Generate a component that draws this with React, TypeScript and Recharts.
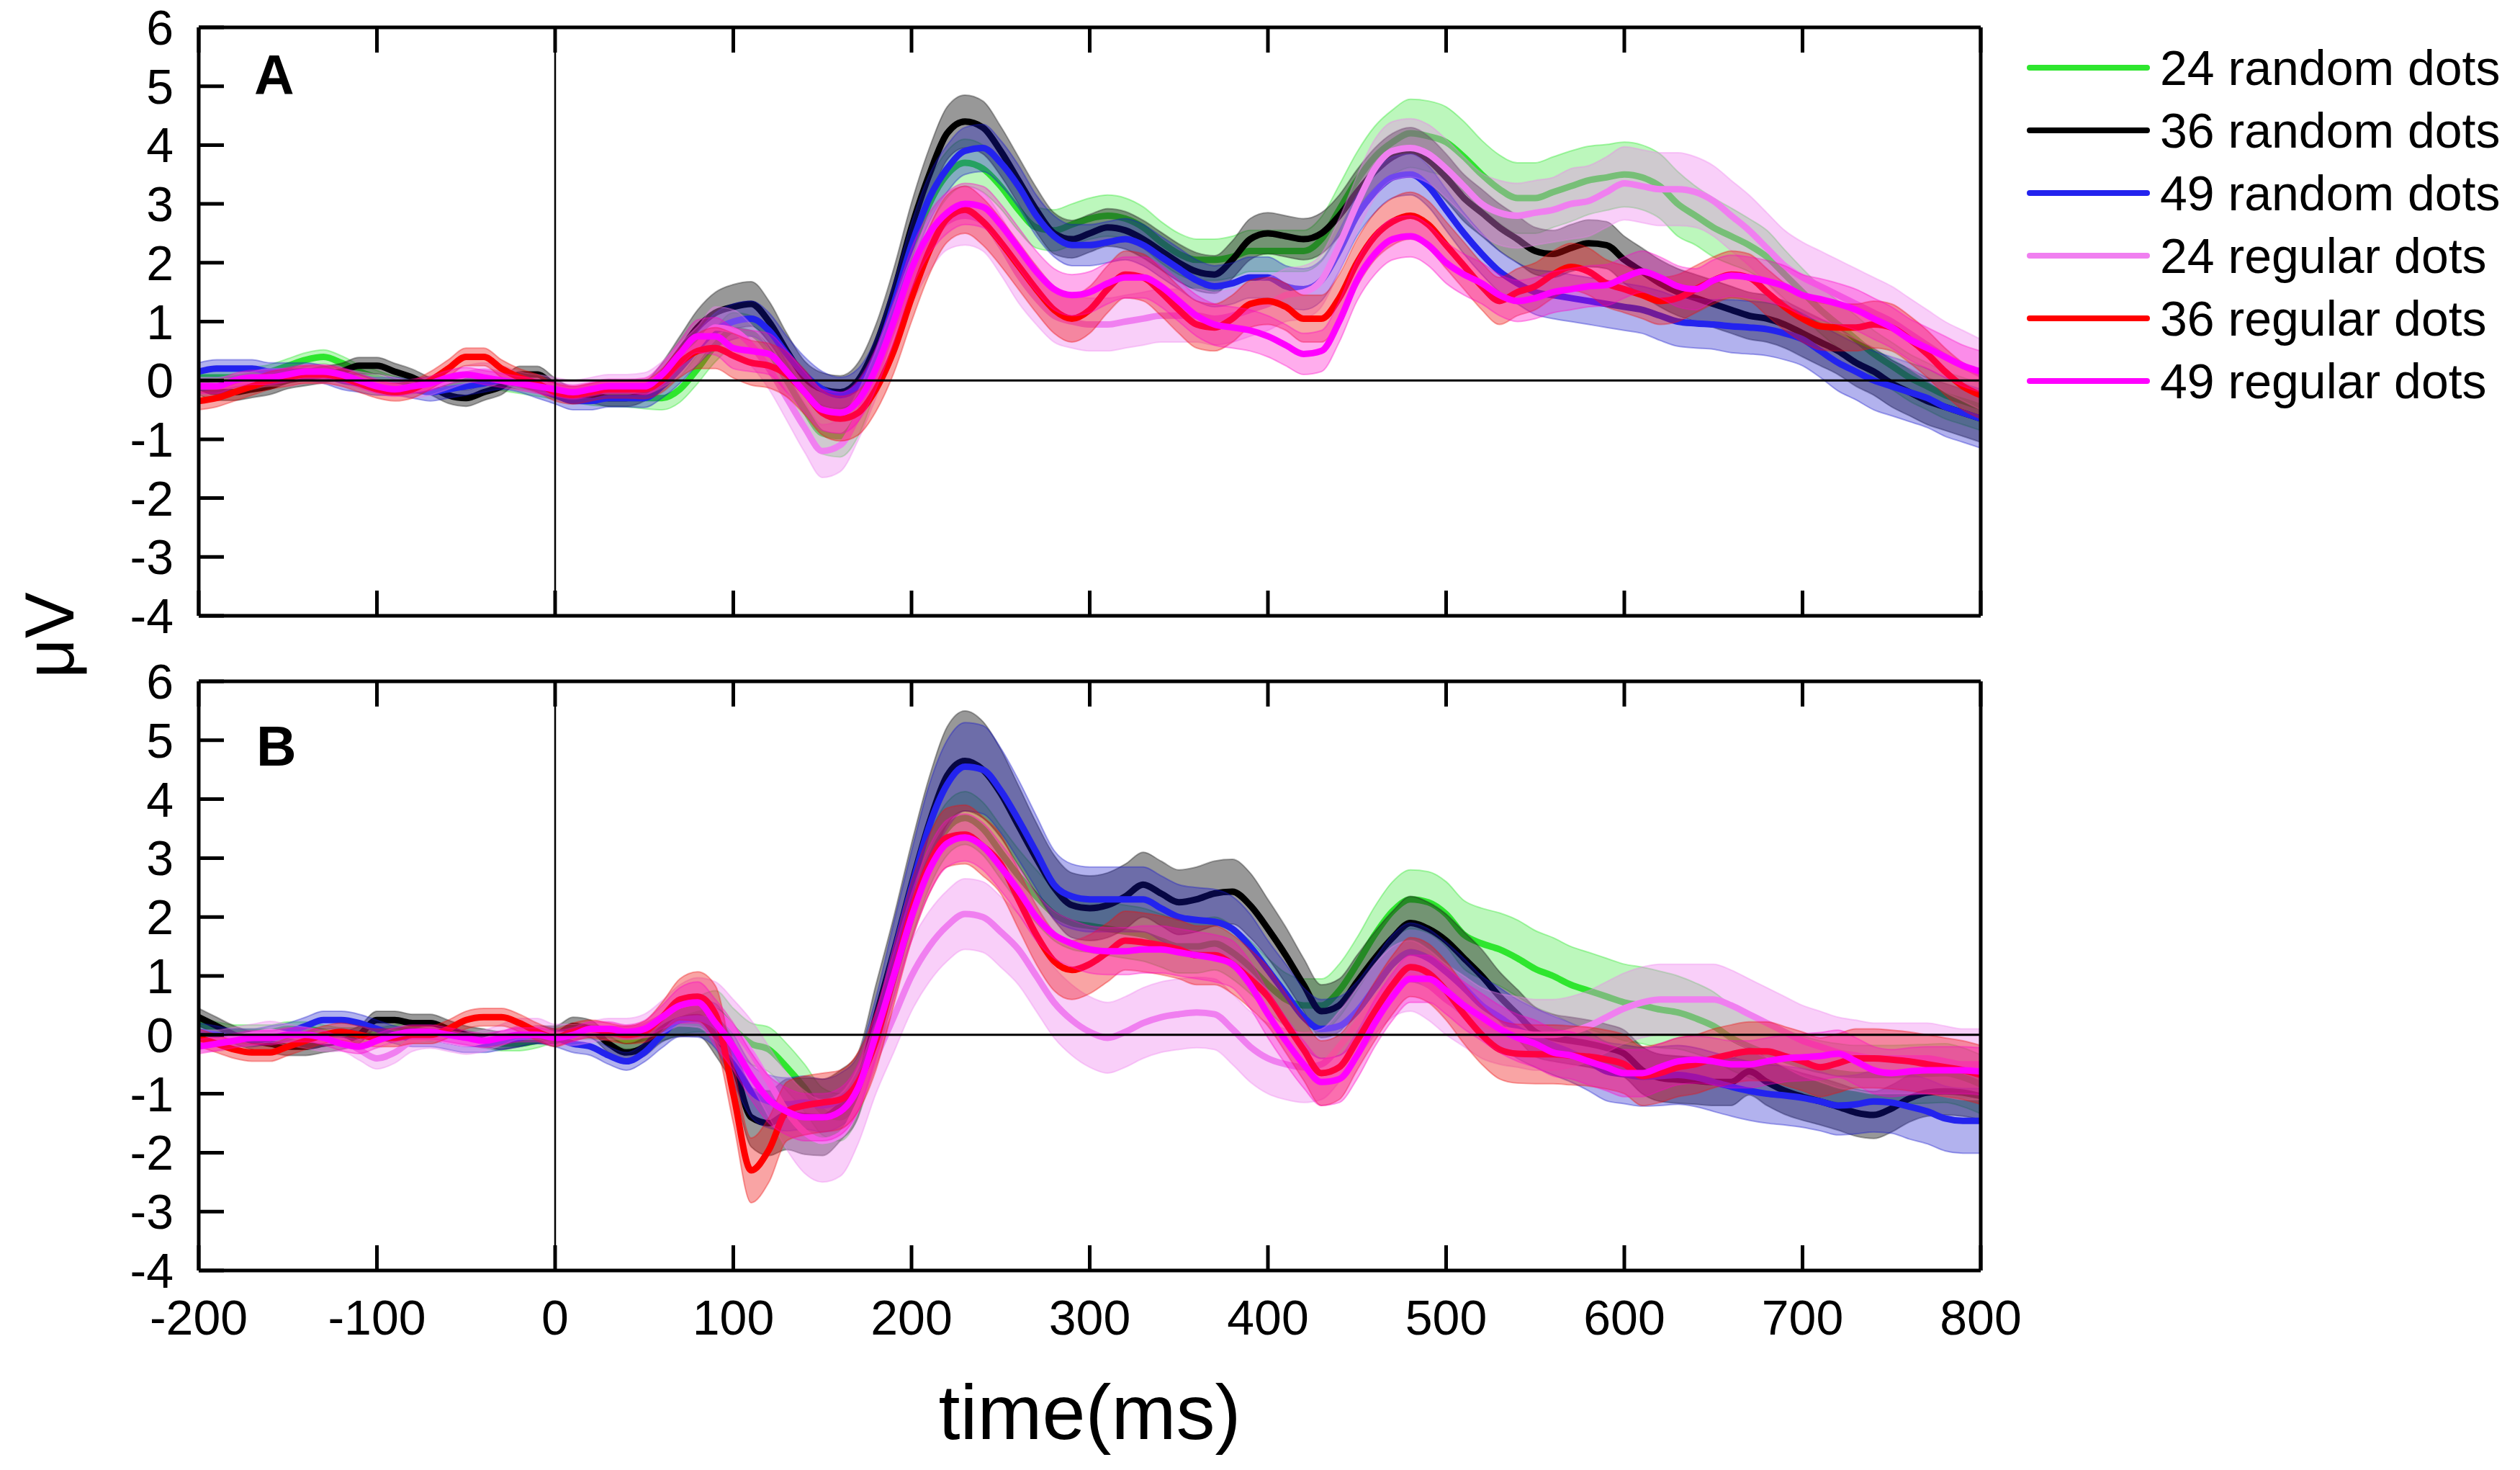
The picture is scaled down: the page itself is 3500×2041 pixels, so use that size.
import React from 'react'
import { ComposedChart, Line, Area, XAxis, YAxis, ReferenceLine } from 'recharts'

const FONT = '"Liberation Sans", Arial, Helvetica, sans-serif'

// time axis (ms), one sample every 10 ms
const TIMES = [
  -200, -190, -180, -170, -160, -150, -140, -130, -120, -110,
  -100, -90, -80, -70, -60, -50, -40, -30, -20, -10,
  0, 10, 20, 30, 40, 50, 60, 70, 80, 90,
  100, 110, 120, 130, 140, 150, 160, 170, 180, 190,
  200, 210, 220, 230, 240, 250, 260, 270, 280, 290,
  300, 310, 320, 330, 340, 350, 360, 370, 380, 390,
  400, 410, 420, 430, 440, 450, 460, 470, 480, 490,
  500, 510, 520, 530, 540, 550, 560, 570, 580, 590,
  600, 610, 620, 630, 640, 650, 660, 670, 680, 690,
  700, 710, 720, 730, 740, 750, 760, 770, 780, 790,
  800,
]

const X_TICKS = [-200, -100, 0, 100, 200, 300, 400, 500, 600, 700, 800]
const Y_TICKS = [-4, -3, -2, -1, 0, 1, 2, 3, 4, 5, 6]

// ---------- panel A: mean amplitude (µV) ----------
const A_R24 = [
  0.05, 0.05, 0.05, 0.1, 0.15, 0.25, 0.35, 0.4, 0.3, 0.15,
  0.05, -0.05, -0.1, -0.05, -0.05, 0.0, 0.05, -0.05, -0.1, -0.15,
  -0.2, -0.25, -0.3, -0.3, -0.3, -0.3, -0.3, -0.15, 0.2, 0.6,
  0.85, 0.8, 0.5, 0.0, -0.5, -0.9, -0.95, -0.6, 0.2, 1.2,
  2.2, 3.0, 3.5, 3.7, 3.6, 3.3, 2.9, 2.6, 2.55, 2.65,
  2.75, 2.8, 2.75, 2.6, 2.35, 2.15, 2.05, 2.05, 2.1, 2.2,
  2.2, 2.2, 2.2, 2.4, 2.9, 3.4, 3.8, 4.05, 4.2, 4.15,
  4.05, 3.8, 3.5, 3.25, 3.1, 3.1, 3.2, 3.3, 3.4, 3.45,
  3.5, 3.45, 3.3, 3.0, 2.8, 2.6, 2.45, 2.3, 2.1, 1.8,
  1.5, 1.2, 0.95, 0.7, 0.45, 0.25, 0.05, -0.1, -0.25, -0.35,
  -0.45,
]
const A_R36 = [
  -0.1, -0.2, -0.2, -0.15, -0.1, 0.0, 0.05, 0.1, 0.15, 0.25,
  0.25, 0.15, 0.05, -0.1, -0.25, -0.3, -0.2, -0.1, 0.1, 0.1,
  -0.1, -0.25, -0.25, -0.3, -0.3, -0.2, 0.1, 0.5, 0.9, 1.15,
  1.25, 1.3, 1.0, 0.5, 0.05, -0.15, -0.2, 0.0, 0.6, 1.5,
  2.6, 3.5, 4.2, 4.4, 4.3, 3.9, 3.4, 2.9, 2.5, 2.4,
  2.5, 2.6, 2.55, 2.4, 2.2, 2.0, 1.85, 1.8, 2.05, 2.4,
  2.5, 2.45, 2.4, 2.5, 2.8, 3.2, 3.55, 3.8, 3.9, 3.75,
  3.45, 3.1, 2.85, 2.6, 2.4, 2.2, 2.15, 2.25, 2.33, 2.3,
  2.05, 1.85, 1.65, 1.5, 1.4, 1.3, 1.2, 1.1, 1.05, 0.95,
  0.8, 0.65, 0.5, 0.3, 0.15, -0.05, -0.2, -0.35, -0.45, -0.55,
  -0.65,
]
const A_R49 = [
  0.15, 0.2, 0.2, 0.2, 0.15, 0.15, 0.15, 0.1, 0.0, -0.05,
  -0.1, -0.1, -0.15, -0.2, -0.15, -0.1, -0.05, 0.0, -0.05, -0.15,
  -0.25, -0.35, -0.35, -0.3, -0.3, -0.3, -0.1, 0.2, 0.55, 0.85,
  1.0, 1.05, 0.85, 0.45, 0.1, -0.15, -0.25, -0.1, 0.4, 1.3,
  2.3, 3.1, 3.6, 3.9, 3.95, 3.7, 3.3, 2.8, 2.45, 2.3,
  2.3, 2.35, 2.4, 2.3, 2.1, 1.9, 1.7, 1.6, 1.65, 1.75,
  1.75, 1.6, 1.55, 1.7, 2.2, 2.8, 3.2, 3.45, 3.5, 3.3,
  2.9, 2.5, 2.15, 1.85, 1.65, 1.5, 1.45, 1.4, 1.35, 1.3,
  1.25, 1.2, 1.1, 1.0, 0.97, 0.95, 0.92, 0.9, 0.87, 0.8,
  0.7, 0.5, 0.3, 0.15, 0.0, -0.1, -0.2, -0.3, -0.45, -0.55,
  -0.65,
]
const A_G24 = [
  -0.1, -0.1, -0.05, 0.0, 0.05, 0.05, 0.1, 0.1, 0.05, 0.0,
  -0.05, -0.1, -0.15, -0.1, 0.0, 0.1, 0.15, 0.1, 0.0, -0.05,
  -0.1, -0.15, -0.1, -0.05, -0.05, -0.05, 0.1, 0.35, 0.6, 0.9,
  0.85, 0.6, 0.2, -0.3, -0.8, -1.2, -1.1, -0.6, 0.1, 0.9,
  1.7, 2.3, 2.7, 2.8, 2.7, 2.3, 1.8, 1.4, 1.1, 1.0,
  0.95, 0.95, 1.0, 1.05, 1.1, 1.1, 1.1, 1.05, 1.1, 1.2,
  1.3, 1.45, 1.5, 1.7, 2.3, 3.0, 3.6, 3.9, 3.95, 3.85,
  3.6, 3.3, 3.0, 2.85, 2.8, 2.85, 2.9, 3.0, 3.05, 3.2,
  3.35, 3.3, 3.25, 3.25, 3.2, 3.05, 2.8, 2.55, 2.25, 1.95,
  1.75, 1.6, 1.45, 1.3, 1.15, 1.0, 0.8, 0.6, 0.4, 0.25,
  0.1,
]
const A_G36 = [
  -0.35, -0.3, -0.2, -0.1, 0.0, 0.05, 0.1, 0.1, 0.05, -0.05,
  -0.15, -0.2, -0.15, 0.0, 0.2, 0.4, 0.4, 0.2, 0.05, -0.05,
  -0.2, -0.25, -0.2, -0.15, -0.15, -0.15, 0.0, 0.3, 0.5, 0.55,
  0.42, 0.3, 0.25, 0.1, -0.2, -0.55, -0.65, -0.55, -0.15, 0.5,
  1.4, 2.2, 2.75, 2.9, 2.7, 2.35, 1.95, 1.55, 1.2, 1.05,
  1.2, 1.55, 1.8, 1.75, 1.5, 1.2, 0.95, 0.9, 1.05, 1.3,
  1.35, 1.25, 1.05, 1.05, 1.4, 2.0, 2.45, 2.7, 2.8, 2.65,
  2.3, 1.95, 1.6, 1.35, 1.5, 1.6, 1.8, 1.93, 1.85, 1.65,
  1.55, 1.45, 1.35, 1.4, 1.55, 1.7, 1.8, 1.75, 1.5, 1.25,
  1.05, 0.92, 0.9, 0.9, 0.95, 0.9, 0.7, 0.45, 0.15, -0.1,
  -0.25,
]
const A_G49 = [
  -0.1, -0.1, 0.0, 0.05, 0.05, 0.1, 0.15, 0.15, 0.1, 0.0,
  -0.1, -0.15, -0.1, -0.05, 0.05, 0.1, 0.05, 0.0, -0.05, -0.1,
  -0.15, -0.2, -0.15, -0.1, -0.1, -0.1, 0.1, 0.45, 0.75, 0.75,
  0.55, 0.5, 0.45, 0.15, -0.2, -0.5, -0.55, -0.35, 0.2, 1.0,
  1.9, 2.5, 2.85, 3.0, 2.95, 2.65, 2.25, 1.85, 1.55, 1.45,
  1.5, 1.65, 1.75, 1.75, 1.6, 1.35, 1.1, 0.95, 0.9, 0.85,
  0.75, 0.6, 0.45, 0.5, 1.0, 1.7, 2.15, 2.4, 2.45, 2.3,
  2.0, 1.8, 1.65, 1.45, 1.35, 1.4, 1.5, 1.55, 1.6, 1.62,
  1.75, 1.85, 1.75, 1.6, 1.55, 1.7, 1.78, 1.75, 1.69, 1.6,
  1.45, 1.38, 1.3, 1.2, 1.05, 0.9, 0.7, 0.55, 0.4, 0.25,
  0.15,
]

// ---------- panel A: band half-widths ----------
const A_R24_SE = [
  .12, .12, .12, .12, .12, .12, .12, .12, .12, .12,
  .12, .12, .12, .12, .12, .12, .12, .12, .12, .12,
  .12, .12, .12, .14, .15, .18, .2, .22, .25, .28,
  .3, .3, .3, .3, .32, .35, .35, .35, .35, .35,
  .38, .4, .4, .4, .4, .38, .36, .35, .35, .35,
  .35, .35, .35, .35, .35, .35, .35, .35, .35, .35,
  .35, .35, .35, .38, .42, .48, .52, .55, .58, .6,
  .6, .6, .58, .58, .6, .6, .6, .6, .58, .56,
  .55, .55, .55, .55, .5, .5, .48, .45, .45, .42,
  .4, .4, .4, .4, .4, .4, .4, .4, .4, .4,
  .4,
]
const A_R36_SE = [
  .14, .14, .14, .14, .14, .14, .14, .14, .14, .14,
  .14, .14, .14, .14, .14, .14, .14, .14, .14, .14,
  .14, .14, .14, .14, .14, .15, .2, .25, .3, .35,
  .38, .38, .35, .3, .28, .28, .28, .3, .35, .4,
  .42, .45, .45, .45, .45, .42, .4, .38, .35, .32,
  .32, .32, .32, .32, .32, .32, .32, .32, .32, .35,
  .35, .35, .35, .35, .35, .38, .4, .4, .4, .4,
  .4, .4, .4, .4, .4, .4, .4, .4, .4, .4,
  .4, .4, .4, .4, .4, .4, .4, .4, .4, .4,
  .4, .4, .4, .4, .4, .4, .4, .4, .4, .4,
  .4,
]
const A_R49_SE = [
  .15, .15, .15, .15, .15, .15, .15, .15, .15, .15,
  .15, .15, .15, .15, .15, .15, .15, .15, .15, .15,
  .15, .15, .15, .15, .15, .16, .2, .25, .28, .3,
  .3, .3, .3, .3, .3, .3, .3, .3, .32, .35,
  .38, .4, .4, .4, .4, .38, .36, .35, .35, .35,
  .35, .35, .35, .35, .35, .35, .35, .35, .35, .35,
  .35, .35, .35, .35, .35, .35, .35, .35, .35, .35,
  .35, .35, .35, .35, .35, .38, .4, .4, .4, .4,
  .4, .4, .42, .42, .42, .42, .45, .45, .45, .45,
  .45, .45, .48, .48, .5, .5, .5, .5, .5, .5,
  .5,
]
const A_G24_SE = [
  .15, .15, .15, .15, .15, .15, .15, .15, .15, .15,
  .15, .15, .15, .15, .15, .15, .15, .15, .15, .15,
  .15, .15, .15, .15, .15, .18, .22, .28, .32, .35,
  .35, .35, .35, .38, .42, .45, .45, .42, .4, .4,
  .42, .45, .48, .5, .5, .5, .48, .45, .45, .45,
  .45, .45, .45, .45, .45, .45, .45, .45, .45, .45,
  .45, .45, .45, .45, .45, .48, .5, .5, .5, .5,
  .5, .5, .52, .55, .55, .55, .55, .6, .6, .6,
  .62, .62, .62, .62, .6, .6, .6, .6, .6, .6,
  .6, .6, .6, .6, .6, .6, .6, .6, .6, .6,
  .6,
]
const A_G36_SE = [
  .15, .15, .15, .15, .15, .15, .15, .15, .15, .15,
  .15, .15, .15, .15, .15, .15, .15, .15, .15, .15,
  .15, .15, .15, .15, .15, .16, .2, .25, .3, .35,
  .38, .38, .38, .38, .38, .38, .38, .38, .38, .38,
  .4, .4, .4, .4, .4, .4, .4, .4, .4, .4,
  .4, .4, .4, .4, .4, .4, .4, .4, .4, .4,
  .4, .4, .4, .4, .4, .4, .4, .4, .4, .4,
  .4, .4, .4, .4, .4, .4, .4, .4, .4, .4,
  .4, .4, .4, .4, .4, .4, .4, .4, .4, .4,
  .4, .4, .4, .4, .4, .4, .4, .4, .4, .4,
  .4,
]
const A_G49_SE = [
  .12, .12, .12, .12, .12, .12, .12, .12, .12, .12,
  .12, .12, .12, .12, .12, .12, .12, .12, .12, .12,
  .12, .12, .12, .12, .12, .14, .18, .22, .28, .32,
  .35, .35, .35, .35, .35, .35, .35, .35, .35, .35,
  .35, .35, .35, .35, .35, .35, .35, .35, .35, .35,
  .35, .35, .35, .35, .35, .35, .35, .35, .35, .35,
  .35, .35, .35, .35, .35, .35, .35, .35, .35, .35,
  .35, .35, .35, .35, .35, .35, .35, .35, .35, .35,
  .35, .35, .35, .35, .35, .35, .35, .35, .35, .35,
  .35, .35, .35, .35, .35, .35, .35, .35, .35, .35,
  .35,
]

// ---------- panel B: mean amplitude (µV) ----------
const B_R24 = [
  0.2, 0.1, 0.05, 0.05, 0.05, 0.1, 0.1, 0.05, 0.0, 0.0,
  0.0, 0.05, 0.1, 0.05, 0.0, -0.05, -0.1, -0.15, -0.15, -0.1,
  0.0, 0.05, 0.05, 0.0, -0.1, -0.05, 0.1, 0.25, 0.35, 0.4,
  0.1, -0.15, -0.25, -0.55, -0.9, -1.3, -1.4, -1.0, 0.0, 1.1,
  2.1, 2.95, 3.5, 3.68, 3.5, 3.1, 2.7, 2.35, 2.05, 1.9,
  1.85, 1.8, 1.75, 1.7, 1.6, 1.5, 1.5, 1.55, 1.4, 1.15,
  0.85, 0.6, 0.5, 0.5, 0.75, 1.2, 1.7, 2.1, 2.3, 2.25,
  2.05, 1.7, 1.55, 1.45, 1.3, 1.12, 1.0, 0.85, 0.75, 0.65,
  0.55, 0.5, 0.43, 0.38, 0.28, 0.15, -0.05, -0.2, -0.32, -0.42,
  -0.52, -0.6, -0.65, -0.68, -0.68, -0.68, -0.67, -0.66, -0.65, -0.72,
  -0.84,
]
const B_R36 = [
  0.3, 0.15, 0.0, -0.1, -0.15, -0.2, -0.2, -0.15, -0.1, 0.0,
  0.25, 0.25, 0.2, 0.2, 0.1, 0.0, -0.05, -0.1, -0.05, 0.0,
  0.0, 0.15, 0.1, -0.15, -0.3, -0.2, 0.1, 0.25, 0.3, 0.0,
  -0.5, -1.4, -1.5, -1.35, -1.38, -1.4, -1.2, -0.85, 0.3, 1.4,
  2.55, 3.6, 4.4, 4.65, 4.5, 4.1, 3.55, 3.0, 2.5, 2.2,
  2.15, 2.2, 2.35, 2.55, 2.4, 2.25, 2.3, 2.4, 2.43, 2.2,
  1.8, 1.35, 0.85, 0.4, 0.5, 0.9, 1.3, 1.65, 1.9, 1.8,
  1.6, 1.3, 1.0, 0.65, 0.35, 0.05, -0.05, -0.1, -0.15, -0.22,
  -0.32, -0.6, -0.73, -0.76, -0.78, -0.8, -0.8, -0.62, -0.8, -0.95,
  -1.05, -1.13, -1.22, -1.32, -1.36, -1.25, -1.08, -0.98, -0.96, -0.98,
  -1.04,
]
const B_R49 = [
  0.05, 0.0, -0.05, -0.05, 0.0, 0.05, 0.15, 0.25, 0.25, 0.2,
  0.1, 0.0, -0.05, -0.05, -0.1, -0.15, -0.15, -0.1, -0.05, 0.0,
  -0.05, -0.15, -0.2, -0.35, -0.45, -0.3, 0.0, 0.25, 0.28, 0.15,
  -0.4, -0.95, -1.13, -1.18, -1.15, -1.2, -1.1, -0.8, 0.15, 1.35,
  2.5, 3.55, 4.25, 4.55, 4.5, 4.15, 3.65, 3.1, 2.55, 2.35,
  2.3, 2.3, 2.3, 2.3, 2.15, 2.0, 1.95, 1.92, 1.8, 1.5,
  1.1, 0.7, 0.3, 0.1, 0.15, 0.4, 0.8, 1.2, 1.4, 1.3,
  1.07, 0.8, 0.5, 0.3, 0.1, -0.05, -0.18, -0.3, -0.45, -0.62,
  -0.67, -0.71, -0.7, -0.68, -0.72, -0.8, -0.88, -0.95, -1.0, -1.03,
  -1.07, -1.13, -1.2, -1.18, -1.13, -1.15, -1.22, -1.3, -1.42, -1.46,
  -1.46,
]
const B_G24 = [
  -0.1, -0.1, -0.05, 0.0, 0.05, 0.0, -0.05, -0.1, -0.1, -0.25,
  -0.4, -0.3, -0.1, -0.05, -0.1, -0.15, -0.1, 0.0, 0.1, 0.1,
  0.0, 0.0, 0.05, 0.1, 0.1, 0.15, 0.3, 0.5, 0.55, 0.4,
  0.1, -0.3, -0.8, -1.3, -1.65, -1.8, -1.7, -1.2, -0.4, 0.3,
  1.0, 1.5, 1.85, 2.05, 2.0, 1.75, 1.45, 1.0, 0.55, 0.25,
  0.05, -0.05, 0.05, 0.2, 0.3, 0.35, 0.38, 0.35, 0.1, -0.2,
  -0.4, -0.5, -0.55, -0.5, -0.2, 0.2, 0.6, 0.9, 1.0, 0.85,
  0.6, 0.4, 0.2, 0.1, 0.05, 0.0, 0.0, 0.05, 0.15, 0.3,
  0.45, 0.55, 0.6, 0.6, 0.6, 0.6, 0.5, 0.35, 0.2, 0.05,
  -0.1, -0.2, -0.3, -0.35, -0.4, -0.4, -0.4, -0.4, -0.45, -0.5,
  -0.5,
]
const B_G36 = [
  -0.05, -0.15, -0.25, -0.3, -0.3, -0.2, -0.1, 0.0, 0.05, 0.0,
  -0.05, -0.05, 0.0, 0.0, 0.1, 0.25, 0.3, 0.3, 0.2, 0.05,
  -0.05, 0.05, 0.1, 0.05, 0.0, 0.05, 0.3, 0.6, 0.65, 0.35,
  -1.0, -2.3, -1.95, -1.3, -1.2, -1.15, -1.1, -0.8, -0.1, 1.0,
  2.1, 2.9, 3.35, 3.4, 3.2, 2.9, 2.3, 1.7, 1.25, 1.1,
  1.2, 1.4, 1.6, 1.57, 1.52, 1.45, 1.35, 1.35, 1.2, 0.95,
  0.65, 0.2, -0.25, -0.65, -0.55, -0.1, 0.4, 0.85, 1.15, 1.05,
  0.75, 0.35, 0.0, -0.25, -0.32, -0.33, -0.33, -0.35, -0.37, -0.42,
  -0.5, -0.7, -0.65, -0.55, -0.5, -0.4, -0.33, -0.28, -0.28, -0.36,
  -0.45, -0.55, -0.48, -0.4, -0.4, -0.42, -0.45, -0.5, -0.55, -0.6,
  -0.68,
]
const B_G49 = [
  -0.2, -0.15, -0.1, -0.05, -0.05, 0.0, 0.0, -0.05, -0.15, -0.2,
  -0.1, 0.0, 0.05, 0.05, 0.0, -0.05, -0.1, -0.05, 0.0, 0.0,
  -0.05, 0.0, 0.1, 0.1, 0.05, 0.1, 0.3, 0.5, 0.55, 0.2,
  -0.2, -0.7, -1.1, -1.3, -1.4, -1.4, -1.3, -0.9, 0.0, 1.0,
  2.0, 2.8, 3.25, 3.35, 3.2, 2.85, 2.45, 2.0, 1.7, 1.55,
  1.45, 1.42, 1.42, 1.45, 1.45, 1.4, 1.35, 1.3, 1.2, 0.85,
  0.35, -0.1, -0.5, -0.8, -0.75, -0.35, 0.2, 0.65, 0.95, 0.95,
  0.75, 0.5, 0.3, 0.1, -0.05, -0.15, -0.3, -0.35, -0.45, -0.55,
  -0.65, -0.65, -0.55, -0.45, -0.42, -0.45, -0.5, -0.5, -0.45, -0.4,
  -0.38, -0.36, -0.32, -0.45, -0.6, -0.65, -0.62, -0.6, -0.6, -0.6,
  -0.62,
]

// ---------- panel B: band half-widths ----------
const B_R24_SE = [
  .12, .12, .12, .12, .12, .12, .12, .12, .12, .12,
  .12, .12, .12, .12, .12, .12, .12, .12, .12, .12,
  .12, .12, .12, .12, .14, .16, .2, .25, .3, .35,
  .35, .35, .38, .4, .4, .4, .4, .4, .42, .45,
  .45, .45, .45, .45, .45, .45, .45, .45, .45, .45,
  .45, .45, .45, .45, .45, .45, .45, .45, .45, .45,
  .45, .45, .45, .45, .45, .45, .48, .5, .5, .52,
  .55, .58, .6, .62, .65, .65, .65, .65, .65, .65,
  .65, .65, .65, .62, .6, .58, .55, .52, .5, .5,
  .5, .5, .5, .5, .5, .5, .5, .5, .5, .5,
  .5,
]
const B_R36_SE = [
  .15, .15, .15, .15, .15, .15, .15, .15, .15, .15,
  .15, .15, .15, .15, .15, .15, .15, .15, .15, .15,
  .15, .15, .15, .15, .15, .16, .22, .28, .32, .35,
  .4, .5, .55, .6, .65, .65, .6, .55, .55, .6,
  .7, .78, .83, .85, .82, .75, .68, .6, .55, .55,
  .55, .55, .55, .55, .55, .55, .55, .55, .55, .55,
  .5, .48, .45, .45, .45, .45, .45, .45, .45, .45,
  .45, .45, .45, .42, .42, .42, .4, .4, .4, .4,
  .4, .4, .4, .4, .4, .4, .4, .4, .4, .4,
  .4, .4, .4, .4, .4, .4, .4, .4, .4, .4,
  .4,
]
const B_R49_SE = [
  .15, .15, .15, .15, .15, .15, .15, .15, .15, .15,
  .15, .15, .15, .15, .15, .15, .15, .15, .15, .15,
  .15, .15, .15, .15, .15, .16, .22, .28, .32, .38,
  .42, .45, .45, .45, .45, .45, .45, .45, .48, .55,
  .62, .7, .75, .75, .75, .72, .68, .62, .58, .55,
  .55, .55, .55, .55, .55, .55, .55, .55, .55, .55,
  .5, .5, .5, .5, .5, .5, .5, .5, .5, .5,
  .5, .5, .5, .5, .5, .5, .5, .5, .5, .5,
  .5, .5, .5, .5, .5, .5, .5, .5, .5, .5,
  .5, .5, .5, .5, .52, .52, .55, .55, .55, .55,
  .55,
]
const B_G24_SE = [
  .18, .18, .18, .18, .18, .18, .18, .18, .18, .18,
  .18, .18, .18, .18, .18, .18, .18, .18, .18, .18,
  .18, .18, .18, .18, .18, .2, .28, .35, .42, .5,
  .5, .55, .6, .65, .7, .7, .7, .65, .6, .6,
  .6, .6, .6, .6, .6, .6, .6, .6, .6, .6,
  .6, .6, .6, .6, .6, .6, .6, .6, .6, .6,
  .6, .6, .6, .6, .6, .6, .6, .6, .6, .6,
  .6, .6, .6, .6, .6, .6, .6, .6, .6, .6,
  .6, .6, .6, .6, .6, .6, .6, .6, .6, .6,
  .6, .6, .6, .6, .6, .6, .6, .6, .6, .6,
  .6,
]
const B_G36_SE = [
  .15, .15, .15, .15, .15, .15, .15, .15, .15, .15,
  .15, .15, .15, .15, .15, .15, .15, .15, .15, .15,
  .15, .15, .15, .15, .15, .18, .25, .35, .42, .48,
  .5, .55, .55, .5, .5, .5, .5, .5, .5, .5,
  .5, .5, .5, .5, .5, .5, .5, .5, .5, .5,
  .5, .5, .5, .5, .5, .5, .5, .5, .5, .5,
  .5, .5, .52, .55, .55, .5, .5, .5, .5, .5,
  .5, .5, .5, .5, .5, .5, .5, .5, .5, .5,
  .5, .5, .5, .5, .5, .5, .5, .5, .5, .5,
  .5, .5, .5, .5, .5, .5, .5, .5, .5, .5,
  .5,
]
const B_G49_SE = [
  .12, .12, .12, .12, .12, .12, .12, .12, .12, .12,
  .12, .12, .12, .12, .12, .12, .12, .12, .12, .12,
  .12, .12, .12, .12, .12, .14, .2, .3, .35, .4,
  .4, .4, .4, .4, .4, .4, .4, .4, .4, .4,
  .4, .4, .4, .4, .4, .4, .4, .4, .4, .4,
  .4, .4, .4, .4, .4, .4, .4, .4, .4, .4,
  .4, .4, .4, .4, .4, .4, .4, .4, .4, .4,
  .4, .4, .4, .4, .4, .4, .4, .4, .4, .4,
  .4, .4, .4, .4, .4, .4, .4, .4, .4, .4,
  .4, .4, .4, .4, .4, .4, .4, .4, .4, .4,
  .4,
]

// series styles (drawn in this order, band then line)
const SERIES = [
  { key: 'r24', label: '24 random dots', line: '#2ee62e', band: '#22e622', bandOpacity: 0.3 },
  { key: 'r36', label: '36 random dots', line: '#000000', band: '#1a1a1a', bandOpacity: 0.45 },
  { key: 'r49', label: '49 random dots', line: '#2323ee', band: '#1414cc', bandOpacity: 0.33 },
  { key: 'g24', label: '24 regular dots', line: '#f07ff0', band: '#ee82ee', bandOpacity: 0.38 },
  { key: 'g36', label: '36 regular dots', line: '#ff0000', band: '#ee1111', bandOpacity: 0.38 },
  { key: 'g49', label: '49 regular dots', line: '#ff00ff', band: '#ff00c8', bandOpacity: 0.32 },
]

const PANEL_A = {
  r24: [A_R24, A_R24_SE], r36: [A_R36, A_R36_SE], r49: [A_R49, A_R49_SE],
  g24: [A_G24, A_G24_SE], g36: [A_G36, A_G36_SE], g49: [A_G49, A_G49_SE],
}
const PANEL_B = {
  r24: [B_R24, B_R24_SE], r36: [B_R36, B_R36_SE], r49: [B_R49, B_R49_SE],
  g24: [B_G24, B_G24_SE], g36: [B_G36, B_G36_SE], g49: [B_G49, B_G49_SE],
}

function buildRows(panel: Record<string, number[][]>) {
  return TIMES.map((t, i) => {
    const row: any = { t }
    SERIES.forEach(s => {
      const [mean, se] = panel[s.key]
      row[s.key] = mean[i]
      row[s.key + 'Band'] = [mean[i] - se[i], mean[i] + se[i]]
    })
    return row
  })
}

const ROWS_A = buildRows(PANEL_A)
const ROWS_B = buildRows(PANEL_B)

const TICK_LEN = 35
const FRAME = 5

// inward ticks with labels outside
function LeftTick(props: any) {
  const { x, y, payload } = props
  return (
    <g>
      <line x1={x} x2={x + TICK_LEN} y1={y} y2={y} stroke="#000" strokeWidth={FRAME} />
      <text x={x - 35} y={y + 24} textAnchor="end" fontSize={68} fontFamily={FONT} fill="#000">
        {payload.value}
      </text>
    </g>
  )
}

function RightTick(props: any) {
  const { x, y } = props
  return <line x1={x - TICK_LEN} x2={x} y1={y} y2={y} stroke="#000" strokeWidth={FRAME} />
}

function TopTick(props: any) {
  const { x, y } = props
  return <line x1={x} x2={x} y1={y} y2={y + TICK_LEN} stroke="#000" strokeWidth={FRAME} />
}

function BottomTick(props: any) {
  const { x, y, payload, showLabel } = props
  return (
    <g>
      <line x1={x} x2={x} y1={y - TICK_LEN} y2={y} stroke="#000" strokeWidth={FRAME} />
      {showLabel && (
        <text x={x} y={y + 89} textAnchor="middle" fontSize={68} fontFamily={FONT} fill="#000">
          {payload.value}
        </text>
      )}
    </g>
  )
}

function Panel({ rows, height, margin, bottomHeight, showXLabels }: any) {
  return (
    <ComposedChart width={3500} height={height} data={rows} margin={margin}>
      <XAxis
        dataKey="t"
        type="number"
        domain={[-200, 800]}
        ticks={X_TICKS}
        interval={0}
        height={bottomHeight}
        tickSize={0}
        tickMargin={0}
        axisLine={{ stroke: '#000', strokeWidth: FRAME }}
        tickLine={false}
        tick={(p: any) => <BottomTick {...p} showLabel={showXLabels} />}
        label={showXLabels ? { value: 'time(ms)', position: 'insideBottom', offset: 43, fontSize: 108, fill: '#000', fontFamily: FONT } : undefined}
      />
      <XAxis
        xAxisId="top"
        orientation="top"
        dataKey="t"
        type="number"
        domain={[-200, 800]}
        ticks={X_TICKS}
        interval={0}
        height={1}
        tickSize={0}
        tickMargin={0}
        axisLine={{ stroke: '#000', strokeWidth: FRAME }}
        tickLine={false}
        tick={<TopTick />}
      />
      <YAxis
        type="number"
        domain={[-4, 6]}
        ticks={Y_TICKS}
        interval={0}
        width={276}
        tickSize={0}
        tickMargin={0}
        axisLine={{ stroke: '#000', strokeWidth: FRAME }}
        tickLine={false}
        tick={<LeftTick />}
      />
      <YAxis
        yAxisId="right"
        orientation="right"
        type="number"
        domain={[-4, 6]}
        ticks={Y_TICKS}
        interval={0}
        width={1}
        tickSize={0}
        tickMargin={0}
        axisLine={{ stroke: '#000', strokeWidth: FRAME }}
        tickLine={false}
        tick={<RightTick />}
      />
      {SERIES.flatMap((s, i) => [
        <Area
          key={s.key + 'Band'}
          dataKey={s.key + 'Band'}
          type="monotone"
          fill={s.band}
          fillOpacity={s.bandOpacity}
          stroke={s.band}
          strokeOpacity={0.35}
          strokeWidth={2}
          dot={false}
          activeDot={false}
          isAnimationActive={false}
          zIndex={110 + i * 20}
        />,
        <Line
          key={s.key}
          dataKey={s.key}
          type="monotone"
          stroke={s.line}
          strokeWidth={9}
          dot={false}
          activeDot={false}
          isAnimationActive={false}
          zIndex={120 + i * 20}
        />,
      ])}
      <ReferenceLine y={0} stroke="#000" strokeWidth={3} zIndex={450} />
      <ReferenceLine x={0} stroke="#000" strokeWidth={2.5} zIndex={450} />
    </ComposedChart>
  )
}

export default function App() {
  return (
    <div style={{ position: 'absolute', left: 0, top: 0, width: 3500, height: 2041, background: '#fff', fontFamily: FONT }}>
      <div style={{ position: 'absolute', left: 0, top: 0 }}>
        <Panel rows={ROWS_A} height={900} margin={{ top: 37, right: 748, bottom: 44, left: 0 }} bottomHeight={1} showXLabels={false} />
      </div>
      <div style={{ position: 'absolute', left: 0, top: 900 }}>
        <Panel rows={ROWS_B} height={1141} margin={{ top: 45, right: 748, bottom: 0, left: 0 }} bottomHeight={277} showXLabels />
      </div>
      <svg width={3500} height={2041} style={{ position: 'absolute', left: 0, top: 0, pointerEvents: 'none' }}>
        <text x={353} y={131} fontSize={77} fontWeight="bold" fontFamily={FONT} fill="#000">A</text>
        <text x={356} y={1063} fontSize={77} fontWeight="bold" fontFamily={FONT} fill="#000">B</text>
        <text x={102} y={882} transform="rotate(-90 102 882)" textAnchor="middle" fontSize={96} fontFamily={FONT} fill="#000">μV</text>
        {SERIES.map((s, i) => (
          <g key={s.key}>
            <line x1={2819} x2={2982} y1={94 + i * 87} y2={94 + i * 87} stroke={s.line} strokeWidth={8} strokeLinecap="round" />
            <text x={3000} y={94 + i * 87 + 24} fontSize={68} fontFamily={FONT} fill="#000">{s.label}</text>
          </g>
        ))}
      </svg>
    </div>
  )
}
